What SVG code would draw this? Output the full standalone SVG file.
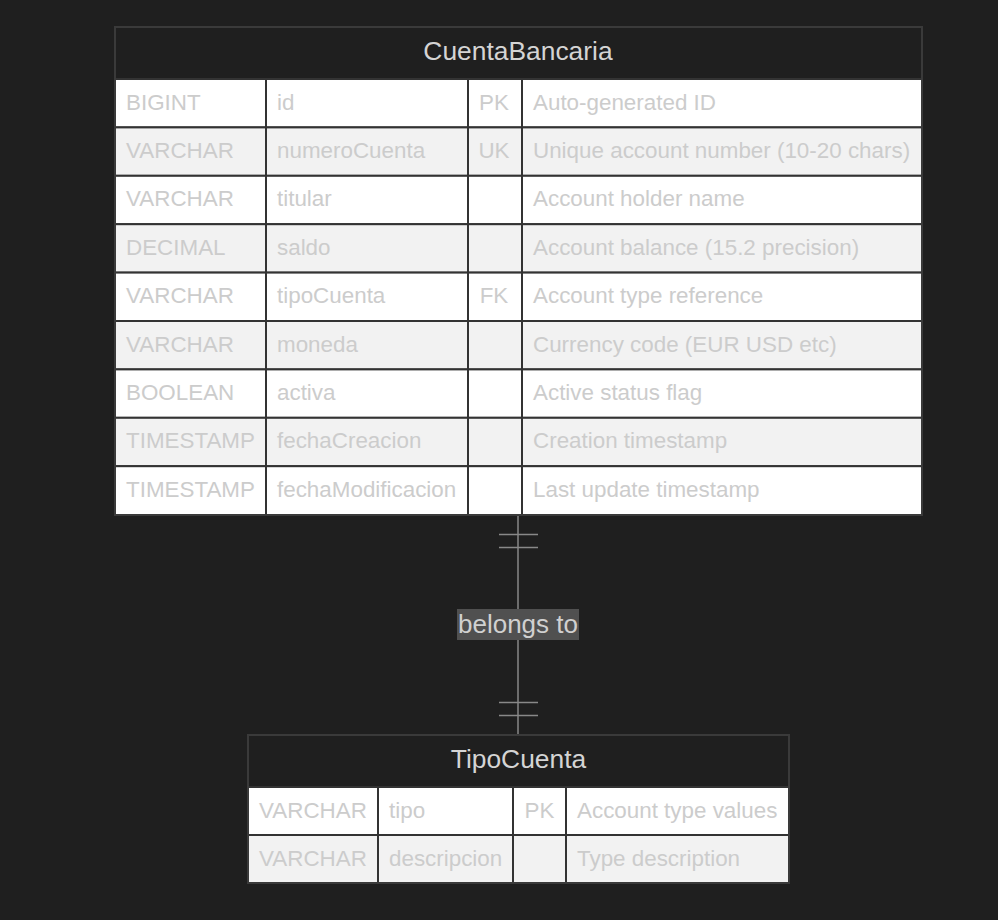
<svg xmlns="http://www.w3.org/2000/svg" width="998" height="920" viewBox="0 0 998 920">
<style>
  .bg{fill:#1f1f1f}
  .hdr{fill:#1f1f1f;stroke:#3a3a3a;stroke-width:2}
  .odd{fill:#ffffff;stroke:#333333;stroke-width:2}
  .even{fill:#f2f2f2;stroke:#333333;stroke-width:2}
  .title{font-family:"Liberation Sans",Arial,sans-serif;font-size:26.4px;fill:#d4d4d4;text-anchor:middle}
  .cell{font-family:"Liberation Sans",Arial,sans-serif;font-size:22.4px;fill:#cccccc}
  .key{font-family:"Liberation Sans",Arial,sans-serif;font-size:22.4px;fill:#cccccc;text-anchor:middle}
  .rel{stroke:#888888;stroke-width:1.5;fill:none}
  .lblbg{fill:#505050}
  .lbl{font-family:"Liberation Sans",Arial,sans-serif;font-size:26px;fill:#d0d0d0;text-anchor:middle}
</style>
<rect class="bg" x="0" y="0" width="998" height="920"/>

<g id="connectors">
  <line class="rel" x1="518" y1="515" x2="518" y2="735"/>
  <line class="rel" x1="499" y1="534.5" x2="538" y2="534.5"/>
  <line class="rel" x1="499" y1="547.5" x2="538" y2="547.5"/>
  <line class="rel" x1="499" y1="702.5" x2="538" y2="702.5"/>
  <line class="rel" x1="499" y1="715.5" x2="538" y2="715.5"/>
  <rect class="lblbg" x="457" y="609" width="122" height="31"/>
  <text class="lbl" x="518" y="633">belongs to</text>
</g>

<g id="CuentaBancaria">
  <rect class="hdr" x="115" y="27" width="807" height="52"/>
  <text class="title" x="518" y="60">CuentaBancaria</text>
  <rect class="odd" x="115" y="79" width="151" height="48.4"/><rect class="odd" x="266" y="79" width="202" height="48.4"/><rect class="odd" x="468" y="79" width="54" height="48.4"/><rect class="odd" x="522" y="79" width="400" height="48.4"/>
  <text class="cell" x="126" y="109.5">BIGINT</text><text class="cell" x="277" y="109.5">id</text><text class="key" x="494" y="109.5">PK</text><text class="cell" x="533" y="109.5">Auto-generated ID</text>
  <rect class="even" x="115" y="127.4" width="151" height="48.4"/><rect class="even" x="266" y="127.4" width="202" height="48.4"/><rect class="even" x="468" y="127.4" width="54" height="48.4"/><rect class="even" x="522" y="127.4" width="400" height="48.4"/>
  <text class="cell" x="126" y="157.9">VARCHAR</text><text class="cell" x="277" y="157.9">numeroCuenta</text><text class="key" x="494" y="157.9">UK</text><text class="cell" x="533" y="157.9">Unique account number (10-20 chars)</text>
  <rect class="odd" x="115" y="175.8" width="151" height="48.4"/><rect class="odd" x="266" y="175.8" width="202" height="48.4"/><rect class="odd" x="468" y="175.8" width="54" height="48.4"/><rect class="odd" x="522" y="175.8" width="400" height="48.4"/>
  <text class="cell" x="126" y="206.3">VARCHAR</text><text class="cell" x="277" y="206.3">titular</text><text class="cell" x="533" y="206.3">Account holder name</text>
  <rect class="even" x="115" y="224.2" width="151" height="48.4"/><rect class="even" x="266" y="224.2" width="202" height="48.4"/><rect class="even" x="468" y="224.2" width="54" height="48.4"/><rect class="even" x="522" y="224.2" width="400" height="48.4"/>
  <text class="cell" x="126" y="254.7">DECIMAL</text><text class="cell" x="277" y="254.7">saldo</text><text class="cell" x="533" y="254.7">Account balance (15.2 precision)</text>
  <rect class="odd" x="115" y="272.6" width="151" height="48.4"/><rect class="odd" x="266" y="272.6" width="202" height="48.4"/><rect class="odd" x="468" y="272.6" width="54" height="48.4"/><rect class="odd" x="522" y="272.6" width="400" height="48.4"/>
  <text class="cell" x="126" y="303.1">VARCHAR</text><text class="cell" x="277" y="303.1">tipoCuenta</text><text class="key" x="494" y="303.1">FK</text><text class="cell" x="533" y="303.1">Account type reference</text>
  <rect class="even" x="115" y="321" width="151" height="48.4"/><rect class="even" x="266" y="321" width="202" height="48.4"/><rect class="even" x="468" y="321" width="54" height="48.4"/><rect class="even" x="522" y="321" width="400" height="48.4"/>
  <text class="cell" x="126" y="351.5">VARCHAR</text><text class="cell" x="277" y="351.5">moneda</text><text class="cell" x="533" y="351.5">Currency code (EUR USD etc)</text>
  <rect class="odd" x="115" y="369.4" width="151" height="48.4"/><rect class="odd" x="266" y="369.4" width="202" height="48.4"/><rect class="odd" x="468" y="369.4" width="54" height="48.4"/><rect class="odd" x="522" y="369.4" width="400" height="48.4"/>
  <text class="cell" x="126" y="399.9">BOOLEAN</text><text class="cell" x="277" y="399.9">activa</text><text class="cell" x="533" y="399.9">Active status flag</text>
  <rect class="even" x="115" y="417.8" width="151" height="48.4"/><rect class="even" x="266" y="417.8" width="202" height="48.4"/><rect class="even" x="468" y="417.8" width="54" height="48.4"/><rect class="even" x="522" y="417.8" width="400" height="48.4"/>
  <text class="cell" x="126" y="448.3">TIMESTAMP</text><text class="cell" x="277" y="448.3">fechaCreacion</text><text class="cell" x="533" y="448.3">Creation timestamp</text>
  <rect class="odd" x="115" y="466.2" width="151" height="48.8"/><rect class="odd" x="266" y="466.2" width="202" height="48.8"/><rect class="odd" x="468" y="466.2" width="54" height="48.8"/><rect class="odd" x="522" y="466.2" width="400" height="48.8"/>
  <text class="cell" x="126" y="496.7">TIMESTAMP</text><text class="cell" x="277" y="496.7">fechaModificacion</text><text class="cell" x="533" y="496.7">Last update timestamp</text>
  <rect x="115" y="27" width="807" height="488" fill="none" stroke="#3a3a3a" stroke-width="2"/>
</g>

<g id="TipoCuenta">
  <rect class="hdr" x="248" y="735" width="541" height="52"/>
  <text class="title" x="518.5" y="768">TipoCuenta</text>
  <rect class="odd" x="248" y="787" width="130" height="48"/><rect class="odd" x="378" y="787" width="135" height="48"/><rect class="odd" x="513" y="787" width="53" height="48"/><rect class="odd" x="566" y="787" width="223" height="48"/>
  <text class="cell" x="259" y="817.5">VARCHAR</text><text class="cell" x="389" y="817.5">tipo</text><text class="key" x="539.5" y="817.5">PK</text><text class="cell" x="577" y="817.5">Account type values</text>
  <rect class="even" x="248" y="835" width="130" height="48"/><rect class="even" x="378" y="835" width="135" height="48"/><rect class="even" x="513" y="835" width="53" height="48"/><rect class="even" x="566" y="835" width="223" height="48"/>
  <text class="cell" x="259" y="865.5">VARCHAR</text><text class="cell" x="389" y="865.5">descripcion</text><text class="cell" x="577" y="865.5">Type description</text>
  <rect x="248" y="735" width="541" height="148" fill="none" stroke="#3a3a3a" stroke-width="2"/>
</g>
</svg>
